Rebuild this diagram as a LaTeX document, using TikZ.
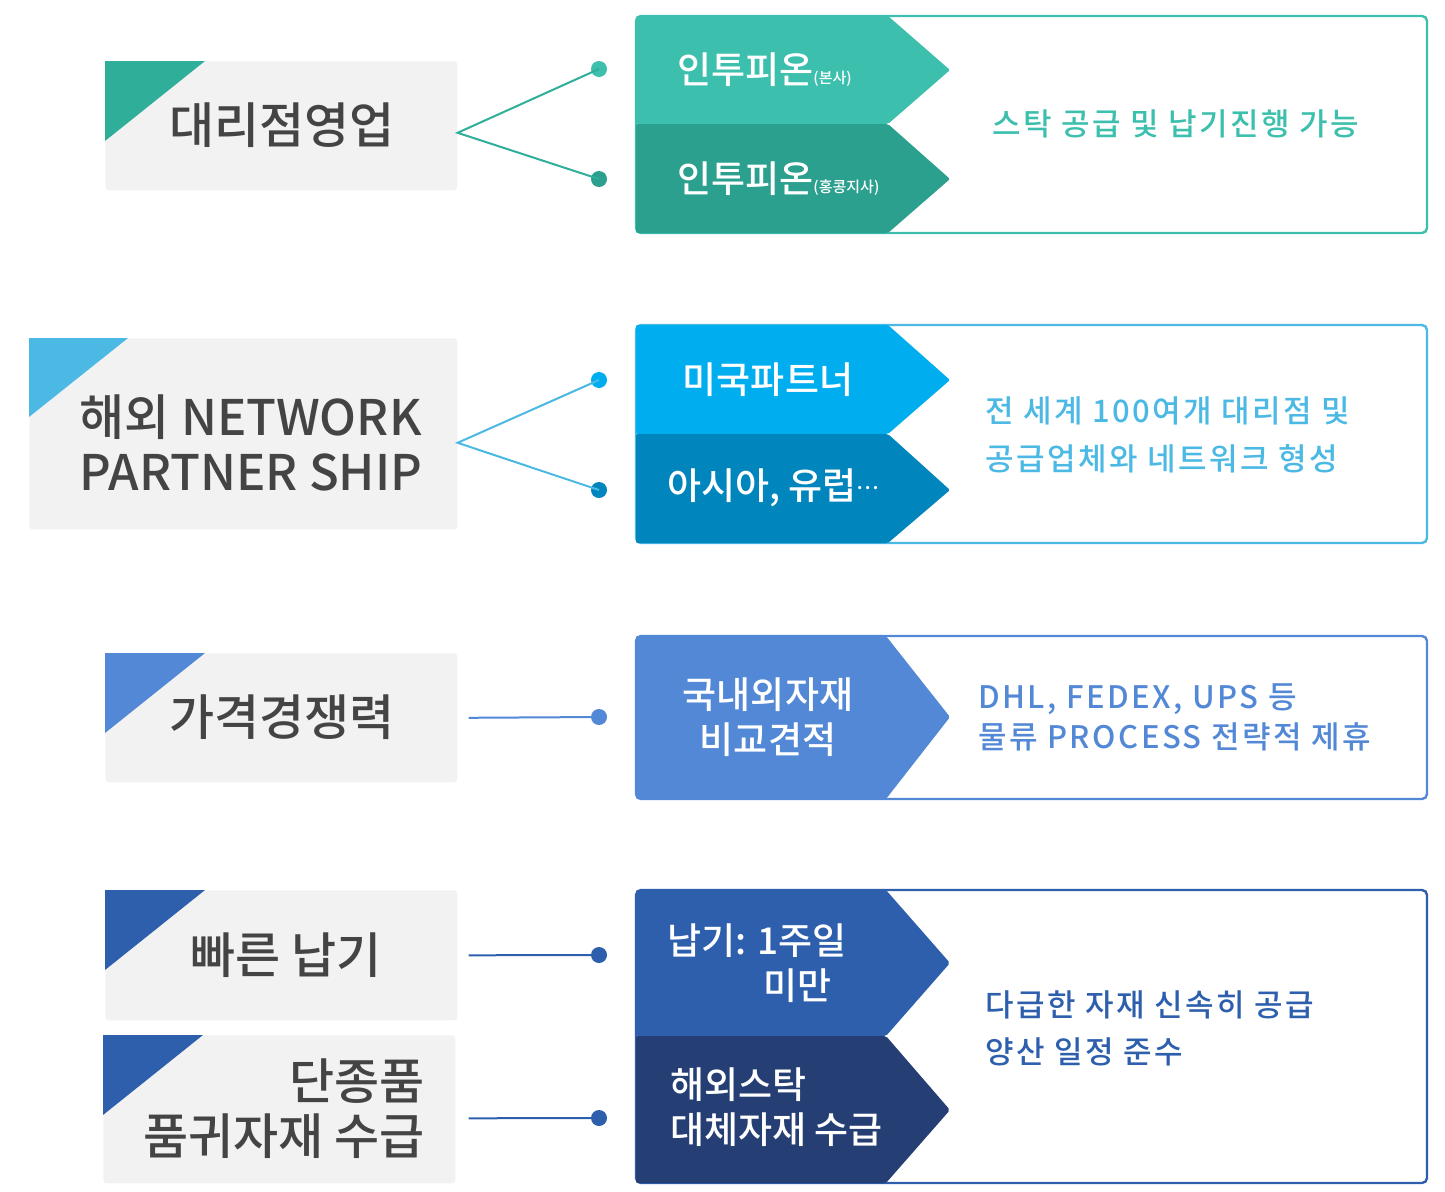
\documentclass[tikz,border=0pt]{standalone}
\usepackage{fontspec}
\setmainfont{Noto Sans CJK KR Medium}
\usepackage{xcolor}
\usetikzlibrary{positioning}

\definecolor{boxgray}{HTML}{F2F2F2}
\definecolor{titlegray}{HTML}{444444}
\definecolor{tealL}{HTML}{3DBFAD}
\definecolor{tealD}{HTML}{2BA08F}
\definecolor{tealT}{HTML}{2FAE99}
\definecolor{skyT}{HTML}{4BB9E4}
\definecolor{skyL}{HTML}{00AEEF}
\definecolor{skyD}{HTML}{0085BD}
\definecolor{midblue}{HTML}{5288D5}
\definecolor{deepblue}{HTML}{2D5FAD}
\definecolor{navy}{HTML}{253F75}

\begin{document}
\begin{tikzpicture}[
            x = 1pt, y = -1pt, % pixel grid, y runs down
            semithick % line style
        ]

        \tikzstyle{leftbox}=[
            fill = boxgray,
            rounded corners = 3pt,
            inner sep = 0pt,
            anchor = north west
        ]
        \tikzstyle{title}=[
            text = titlegray,
            inner sep = 0pt,
            font = \fontsize{49}{55}\selectfont
        ]
        \tikzstyle{chev}=[
            text = white,
            inner sep = 0pt,
            font = \fontsize{37}{45}\selectfont
        ]
        \tikzstyle{desc}=[
            inner sep = 0pt,
            align = left,
            font = \fontsize{31}{48}\selectfont\addfontfeature{LetterSpace=8}
        ]
        \tikzstyle{dot}=[shape=circle, minimum size=16pt, inner sep=0pt]
        \tikzstyle{link}=[line width=2pt]
        \tikzstyle{frame}=[line width=2.4pt, rounded corners=5pt]

        \useasboundingbox (0,0) rectangle (1445,1191);

        % row 1
        \node[leftbox, minimum width=352pt, minimum height=129pt] (LA) at (105,61) {};
        \fill[tealT] (LA.north west) -- ++(100,0) -- ++(-100,80) -- cycle;
        \node[title] (LAt) at (282,125) {대리점영업};

        \draw[frame, tealL] (636,16) rectangle (1427,233);
        \fill[tealL, rounded corners=2pt] (636,16) -- (888,16) -- (950,70) -- (888,124) -- (636,124) -- cycle;
        \fill[tealD, rounded corners=2pt] (636,124) -- (888,124) -- (950,179) -- (888,233) -- (636,233) -- cycle;
        \node[chev, anchor=west] (CAa) at (677,70) {인투피온{\fontsize{15}{15}\selectfont(본사)}};
        \node[chev, anchor=west] (CAb) at (677,179) {인투피온{\fontsize{15}{15}\selectfont(홍콩지사)}};
        \node[desc, text=tealL] (DA) at (1176,124) {스탁 공급 및 납기진행 가능};

        \node[dot, fill=tealL] (PAa) at (599,69) {};
        \node[dot, fill=tealD] (PAb) at (599,179) {};
        \coordinate (KA) at ([yshift=-7pt]LA.east);
        \draw[link, tealT] (PAa.center) -- (KA) -- (PAb.center);

        % row 2
        \node[leftbox, minimum width=428pt, minimum height=191pt] (LB) at (29,338) {};
        \fill[skyT] (LB.north west) -- ++(99,0) -- ++(-99,79) -- cycle;
        \node[title, align=left] (LBt) at (251,443) {해외 NETWORK\\PARTNER SHIP};

        \draw[frame, skyT] (636,325) rectangle (1427,543);
        \fill[skyL, rounded corners=2pt] (636,325) -- (888,325) -- (950,380) -- (888,434) -- (636,434) -- cycle;
        \fill[skyD, rounded corners=2pt] (636,434) -- (888,434) -- (950,490) -- (888,543) -- (636,543) -- cycle;
        \node[chev] (CBa) at (768,380) {미국파트너};
        \node[chev, anchor=west] (CBb) at (667,488) {아시아, 유럽\raisebox{10pt}{\fontsize{21}{21}\selectfont…}};
        \node[desc, text=skyT, anchor=west] (DB) at (985,435) {전 세계 100여개 대리점 및\\공급업체와 네트워크 형성};

        \node[dot, fill=skyL] (PBa) at (599,380) {};
        \node[dot, fill=skyD] (PBb) at (599,490) {};
        \coordinate (KB) at ([yshift=-9pt]LB.east);
        \draw[link, skyT] (PBa.center) -- (KB) -- (PBb.center);

        % row 3
        \node[leftbox, minimum width=352pt, minimum height=129pt] (LC) at (105,653) {};
        \fill[midblue] (LC.north west) -- ++(100,0) -- ++(-100,80) -- cycle;
        \node[title] (LCt) at (282,717) {가격경쟁력};

        \draw[frame, midblue] (636,636) rectangle (1427,799);
        \fill[midblue, rounded corners=2pt] (636,636) -- (886,636) -- (950,717) -- (886,799) -- (636,799) -- cycle;
        \node[chev, align=center] (CC) at (768,717) {국내외자재\\비교견적};
        \node[desc, text=midblue, anchor=west, font=\fontsize{31}{40}\selectfont\addfontfeature{LetterSpace=8}] (DC) at (978,717) {DHL, FEDEX, UPS 등\\물류 PROCESS 전략적 제휴};

        \node[dot, fill=midblue] (PC) at (599,717) {};
        \draw[link, midblue] ([xshift=11pt]LC.east) -- (PC.center);

        % row 4
        \node[leftbox, minimum width=352pt, minimum height=130pt] (LD) at (105,890) {};
        \fill[deepblue] (LD.north west) -- ++(100,0) -- ++(-100,80) -- cycle;
        \node[title] (LDt) at (286,955) {빠른 납기};

        \node[leftbox, minimum width=352pt, minimum height=148pt] (LE) at (103,1035) {};
        \fill[deepblue] (LE.north west) -- ++(100,0) -- ++(-100,80) -- cycle;
        \node[title, align=right, anchor=east] (LEt) at (425,1109) {단종품\\품귀자재 수급};

        \draw[frame, deepblue] (636,890) rectangle (1427,1183);
        \fill[deepblue, rounded corners=2pt] (636,890) -- (886,890) -- (950,963) -- (886,1036) -- (636,1036) -- cycle;
        \fill[navy, rounded corners=2pt] (636,1036) -- (886,1036) -- (950,1110) -- (886,1183) -- (636,1183) -- cycle;
        \node[chev, align=left, anchor=west] (CDa) at (667,963) {납기: 1주일\\\hspace*{96pt}미만};
        \node[chev, align=left, anchor=west] (CDb) at (670,1107) {해외스탁\\대체자재 수급};
        \node[desc, text=deepblue, anchor=west, font=\fontsize{31}{47}\selectfont\addfontfeature{LetterSpace=8}] (DD) at (985,1028) {다급한 자재 신속히 공급\\양산 일정 준수};

        \node[dot, fill=deepblue] (PDa) at (599,955) {};
        \node[dot, fill=deepblue] (PDb) at (599,1118) {};
        \draw[link, deepblue] ([xshift=11pt]LD.east) -- (PDa.center);
        \draw[link, deepblue] ([xshift=13pt,yshift=-9pt]LE.east) -- (PDb.center);
    \end{tikzpicture}
\end{document}
